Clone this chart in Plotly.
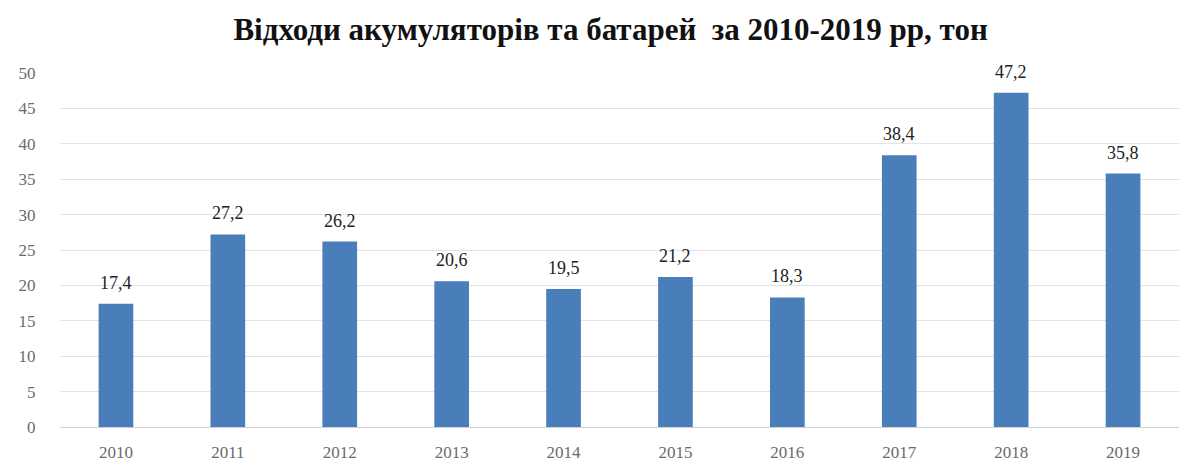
import plotly.graph_objects as go

years = ["2010", "2011", "2012", "2013", "2014", "2015", "2016", "2017", "2018", "2019"]
values = [17.4, 27.2, 26.2, 20.6, 19.5, 21.2, 18.3, 38.4, 47.2, 35.8]
labels = ["17,4", "27,2", "26,2", "20,6", "19,5", "21,2", "18,3", "38,4", "47,2", "35,8"]
y_ticks = [0, 5, 10, 15, 20, 25, 30, 35, 40, 45, 50]

SERIF = "Liberation Serif, Times New Roman, serif"

fig = go.Figure(go.Bar(
    x=years, y=values,
    marker=dict(color="#4a7ebb", line=dict(width=0)),
    hoverinfo="x+y",
))

for i, (v, lb) in enumerate(zip(values, labels)):
    fig.add_annotation(x=i, y=v, text=lb, showarrow=False, xanchor="center", yanchor="bottom",
                       yshift=9, font=dict(family=SERIF, size=18, color="#222222"))

# the page body adds an 8px offset; margins compensate for it
fig.update_layout(
    width=1198, height=471,
    margin=dict(l=52, r=27, t=65, b=52),
    paper_bgcolor="white", plot_bgcolor="white",
    bargap=0.69,
    showlegend=False,
    title=dict(text="<b>Відходи акумуляторів та батарей  за 2010-2019 рр, тон</b>",
               x=0.503, xanchor="center", y=0.956, yanchor="middle",
               font=dict(family=SERIF, size=31, color="#111111")),
)
fig.update_xaxes(type="category", tickfont=dict(family=SERIF, size=17, color="#6b6b6b"),
                 ticks="outside", ticklen=10, tickcolor="rgba(0,0,0,0)", showline=True,
                 linecolor="#d0d0d0", linewidth=1)
fig.update_yaxes(range=[0, 50], tickvals=y_ticks, tickfont=dict(family=SERIF, size=17, color="#6b6b6b"),
                 gridcolor="#e3e3e3", gridwidth=1, zeroline=False, showline=False,
                 ticks="outside", ticklen=20, tickcolor="rgba(0,0,0,0)")

fig.write_html("out.html")
